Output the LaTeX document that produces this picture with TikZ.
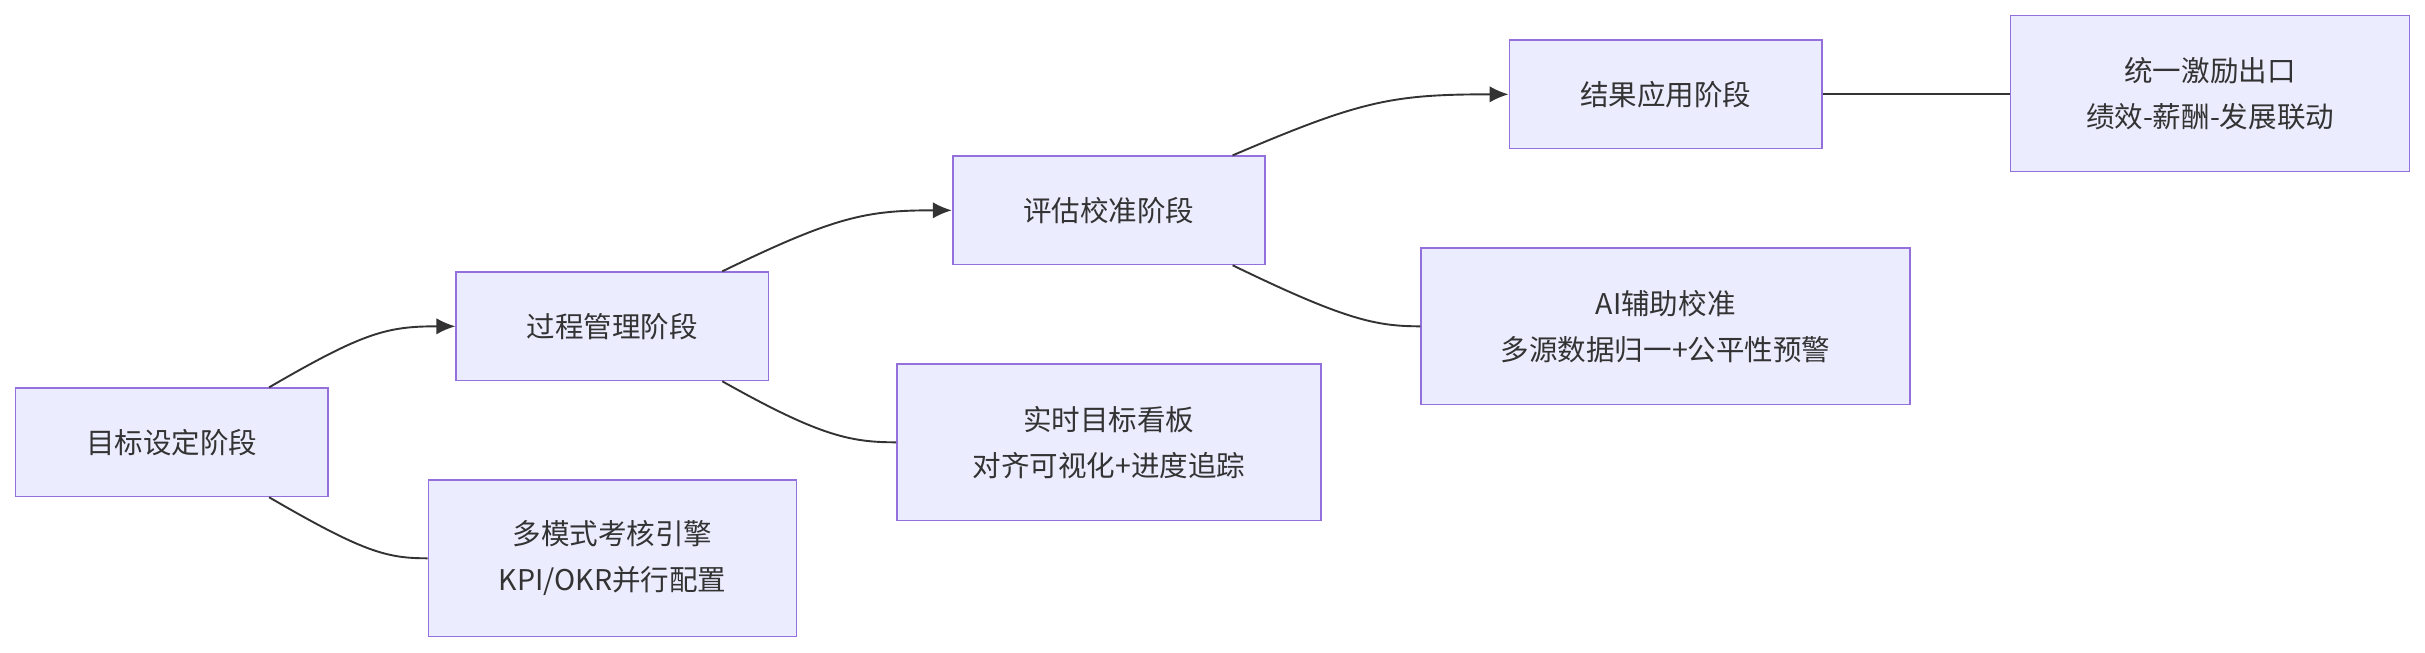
\documentclass[tikz,border=0pt]{standalone}
\usepackage{fontspec}
\setmainfont{Noto Sans CJK SC}
\usetikzlibrary{arrows.meta, calc}
\definecolor{boxfill}{HTML}{ECECFF}
\definecolor{boxline}{HTML}{9370DB}
\definecolor{linkcol}{HTML}{333333}

\begin{document}
\begin{tikzpicture}[
x=0.02cm, y=-0.02cm,
font=\fontsize{10.5}{17}\selectfont,
box/.style={draw=boxline,
fill=boxfill,
line width=0.6pt,
rectangle,
minimum width=#1*0.02cm,
align=center,
text=linkcol},
box/.default=202,
stage/.style={box, minimum height=1.4cm},
note/.style={minimum height=2.02cm},
arrow/.style={-{Latex[length=7pt,width=6pt]}, linkcol, line width=0.7pt},
link/.style={linkcol, line width=0.7pt}
]
\useasboundingbox (0,0) rectangle (1568,422);

\node[stage] (goal) at (111,286) {目标设定阶段};
\node[stage] (process) at (396,211) {过程管理阶段};
\node[stage] (review) at (717,136) {评估校准阶段};
\node[stage] (apply) at (1077,61) {结果应用阶段};
\node[box=258, note] (incent) at (1429,60.5) {统一激励出口\\绩效-薪酬-发展联动};
\node[box=316, note] (aical) at (1077,211) {AI辅助校准\\多源数据归一+公平性预警};
\node[box=274, note] (board) at (717,286) {实时目标看板\\对齐可视化+进度追踪};
\node[box=238, note] (engine) at (396,361) {多模式考核引擎\\KPI/OKR并行配置};

\draw[arrow] ($(goal.north)+(63,0)$) .. controls (235,215) and (250,211) .. (process.west);
\draw[link] ($(goal.south)+(63,0)$) .. controls (235,357) and (250,361) .. (engine.west);
\draw[arrow] ($(process.north)+(71,0)$) .. controls (540,140) and (560,136) .. (review.west);
\draw[link] ($(process.south)+(71,0)$) .. controls (530,282) and (550,286) .. (board.west);
\draw[arrow] ($(review.north)+(80,0)$) .. controls (880,65) and (900,61) .. (apply.west);
\draw[link] ($(review.south)+(80,0)$) .. controls (870,207) and (890,211) .. (aical.west);
\draw[link] (apply.east) -- (incent.west |- apply.east);

\end{tikzpicture}
\end{document}
